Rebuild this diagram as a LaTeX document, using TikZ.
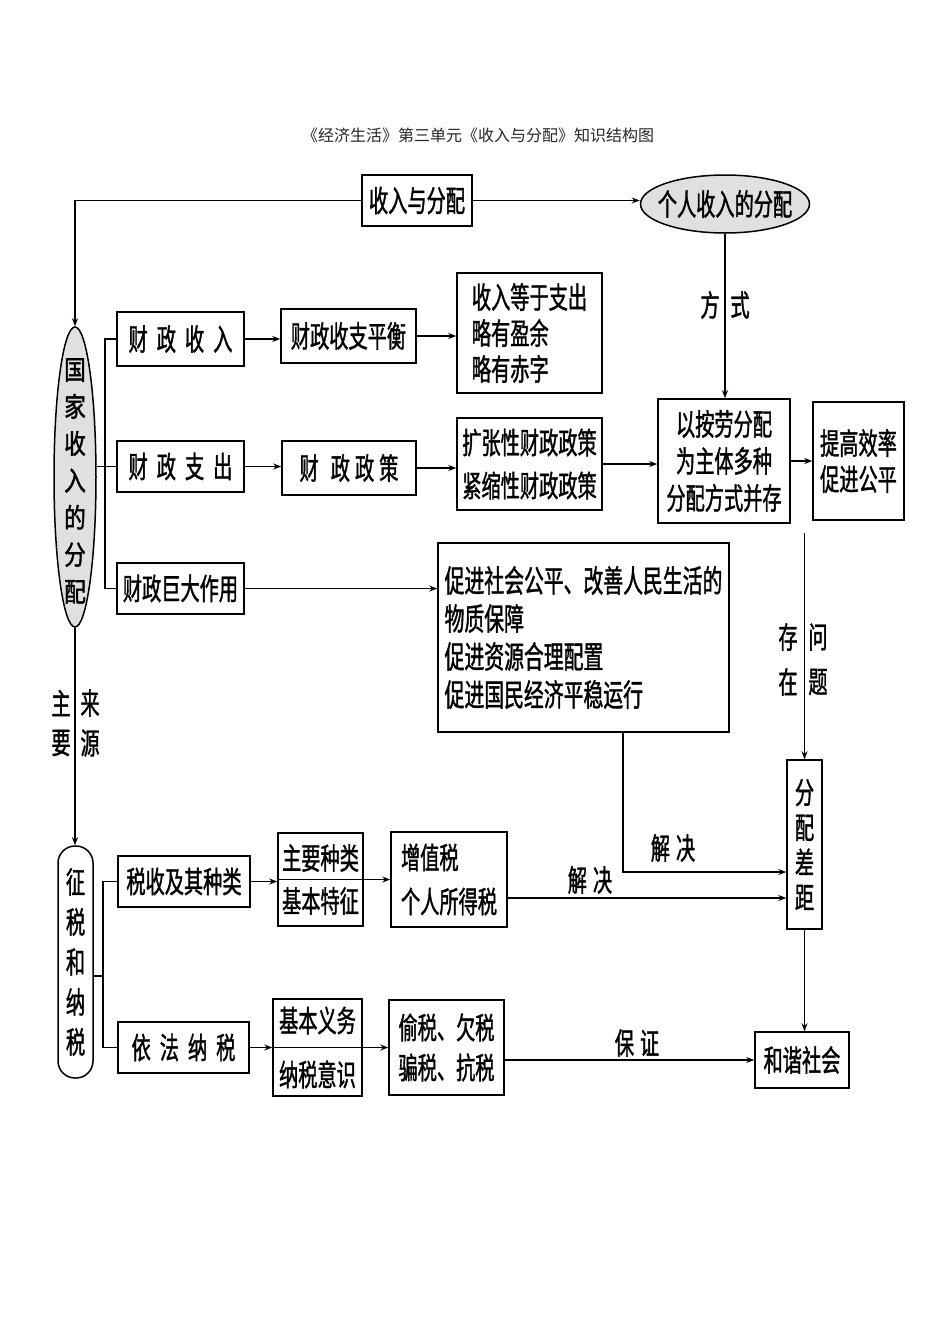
\documentclass[tikz,border=0pt]{standalone}
\usepackage{fontspec}
\newfontfamily\cjk{Noto Sans CJK SC}
\newfontfamily\cjkc[FakeStretch=0.64,FakeBold=1.2]{Noto Sans CJK SC}
\newfontfamily\cjkb[FakeStretch=0.8,FakeBold=1.6]{Noto Sans CJK SC}
\usetikzlibrary{arrows.meta,shapes.geometric,calc}
\newcommand\gp{\hspace{9pt}}
\tikzset{
  box/.style={draw, line width=1.5pt, inner sep=0pt, align=center, font=\cjkc\fontsize{30}{36}\selectfont},
  lbox/.style={box, align=left},
  ell/.style={draw, ellipse, line width=1.5pt, fill=black!12, inner sep=0pt},
  txt/.style={inner sep=0pt, align=center, font=\cjkc\fontsize{30}{36}\selectfont},
  arr/.style={line width=1.5pt, -{Stealth[length=8pt,width=6pt]}},
  ln/.style={line width=1.5pt}
}
\begin{document}
\begin{tikzpicture}[x=1pt,y=-1pt]
\fill[white] (0,0) rectangle (950,1344);
\useasboundingbox (0,0) rectangle (950,1344);

\node[inner sep=0pt, font=\cjk\fontsize{16}{18}\selectfont, text=black!85] (title) at (478,135) {《经济生活》第三单元《收入与分配》知识结构图};

% top row
\node[box, minimum width=110pt, minimum height=51pt] (sr) at (417,200.5) {收入与分配};
\node[ell, minimum width=169pt, minimum height=58pt] (grsr) at (725,204) {};
\node[txt] (grsrt) at (725,204) {个人收入的分配};

% state income ellipse
\node[ell, minimum width=42pt, minimum height=300pt] (gjsr) at (75,477) {};
\node[txt, font=\cjkb\fontsize{27}{37}\selectfont] (gjsrt) at (75,481) {国\\家\\收\\入\\的\\分\\配};

% fiscal rows
\node[box, minimum width=127pt, minimum height=54pt] (czsr) at (180.5,339) {财\gp 政\gp 收\gp 入};
\node[box, minimum width=135pt, minimum height=54pt] (szph) at (348.5,336) {财政收支平衡};
\node[lbox, minimum width=145pt, minimum height=120pt] (sddz) at (529.5,333) {收入等于支出\\略有盈余\\略有赤字};

\node[box, minimum width=127pt, minimum height=51pt] (czzc) at (180.5,466.5) {财\gp 政\gp 支\gp 出};
\node[box, minimum width=134pt, minimum height=54pt] (czzcb) at (349,468) {财\hspace{12pt}政\hspace{5pt}政\hspace{5pt}策};
\node[box, minimum width=145pt, minimum height=92pt, font=\cjkc\fontsize{30}{43}\selectfont] (kzx) at (529.5,464) {扩张性财政政策\\紧缩性财政政策};

\node[box, minimum width=132pt, minimum height=124pt, font=\cjkc\fontsize{30}{37}\selectfont] (abl) at (724,461) {以按劳分配\\为主体多种\\分配方式并存};
\node[box, minimum width=91pt, minimum height=118pt] (tgxl) at (858.5,461) {提高效率\\促进公平};

\node[box, minimum width=127pt, minimum height=51pt] (czjd) at (180.5,588.5) {财政巨大作用};
\node[lbox, minimum width=291pt, minimum height=189pt, font=\cjkc\fontsize{31}{38}\selectfont] (cj) at (583.5,637.5) {促进社会公平、改善人民生活的\\物质保障\\促进资源合理配置\\促进国民经济平稳运行};

\node[box, minimum width=35pt, minimum height=169pt, font=\cjkc\fontsize{30}{35}\selectfont] (fpcj) at (804.5,844.5) {分\\配\\差\\距};

% tax part
\node[draw, line width=1.5pt, rounded corners=17pt, minimum width=35pt, minimum height=232pt, inner sep=0pt] (zsns) at (75.5,962) {};
\node[txt, font=\cjkc\fontsize{30}{40}\selectfont] (zsnst) at (75.5,962) {征\\税\\和\\纳\\税};

\node[box, minimum width=132pt, minimum height=51pt] (ssjq) at (184,881.5) {税收及其种类};
\node[box, minimum width=85pt, minimum height=93pt, font=\cjkc\fontsize{30}{43}\selectfont] (zyzl) at (320.5,879.5) {主要种类\\基本特征};
\node[lbox, minimum width=116pt, minimum height=95pt, font=\cjkc\fontsize{30}{44}\selectfont] (zzs) at (449,879.5) {增值税\\个人所得税};

\node[box, minimum width=131pt, minimum height=51pt] (yfns) at (183.5,1047.5) {依\gp 法\gp 纳\gp 税};
\node[box, minimum width=89pt, minimum height=97pt, font=\cjkc\fontsize{30}{54}\selectfont] (jbyw) at (317.5,1047.5) {基本义务\\纳税意识};
\node[lbox, minimum width=115pt, minimum height=95pt, font=\cjkc\fontsize{30}{40}\selectfont] (ts) at (446.5,1047.5) {偷税、欠税\\骗税、抗税};

\node[box, minimum width=94pt, minimum height=56pt] (hxsh) at (802,1060) {和谐社会};

% labels
\node[txt] (lfang) at (710,305) {方};
\node[txt] (lshi) at (740,305) {式};
\node[txt] (lcun) at (788,637) {存};
\node[txt] (lzai) at (788,682) {在};
\node[txt] (lwen) at (818,637) {问};
\node[txt] (lti) at (818,682) {题};
\node[txt] (lzhu) at (61,703) {主};
\node[txt] (lyao) at (61,743) {要};
\node[txt] (llai) at (90,703) {来};
\node[txt] (lyuan) at (90,743) {源};
\node[txt] (ljj1) at (673,848) {解\hspace{6pt}决};
\node[txt] (ljj2) at (590,880) {解\hspace{6pt}决};
\node[txt] (lbz) at (637,1043) {保\hspace{6pt}证};

% coordinates
\coordinate (b1) at (105,339);
\coordinate (b2) at (103,976);
\coordinate (jj) at (623,872);
\coordinate (y898) at (0,898);
\coordinate (cz) at (804.5,533);

% connectors top
\draw[arr] (sr.west) -| (gjsr.north);
\draw[arr] (sr.east) -- (sr.east -| grsr.west);
\draw[arr] (grsr.south) -- (grsr.south |- abl.north);

% fiscal branch
\draw[ln] (czsr.west) -- (czsr.west -| b1) -- (czjd.west -| b1) -- (czjd.west);
\draw[ln] (gjsr.east |- czzc.west) -- (czzc.west);
\draw[arr] (czsr.east) -- (czsr.east -| szph.west);
\draw[arr] (szph.east) -- (szph.east -| sddz.west);
\draw[arr] (czzc.east) -- (czzc.east -| czzcb.west);
\draw[arr] (czzcb.east) -- (czzcb.east -| kzx.west);
\draw[arr] (kzx.east) -- (kzx.east -| abl.west);
\draw[arr] (abl.east) -- (abl.east -| tgxl.west);
\draw[arr] (czjd.east) -- (czjd.east -| cj.west);

% right side
\draw[arr] (cz) -- (cz |- fpcj.north);
\draw[arr] (cj.south -| jj) -- (jj) -- (jj -| fpcj.west);
\draw[arr] (zzs.east |- y898) -- (fpcj.west |- y898);
\draw[arr] (fpcj.south) -- (fpcj.south |- hxsh.north);

% tax branch
\draw[arr] (gjsr.south) -- (gjsr.south |- zsns.north);
\draw[ln] (zsns.east |- b2) -- (b2);
\draw[ln] (ssjq.west) -- (ssjq.west -| b2) -- (yfns.west -| b2) -- (yfns.west);
\draw[arr] (ssjq.east) -- (ssjq.east -| zyzl.west);
\draw[ln] (zyzl.west) -- (zyzl.east);
\draw[arr] (zyzl.east) -- (zyzl.east -| zzs.west);
\draw[arr] (yfns.east) -- (yfns.east -| jbyw.west);
\draw[ln] (jbyw.west) -- (jbyw.east);
\draw[arr] (jbyw.east) -- (jbyw.east -| ts.west);
\draw[arr] (ts.east |- hxsh.west) -- (hxsh.west);
\end{tikzpicture}
\end{document}
